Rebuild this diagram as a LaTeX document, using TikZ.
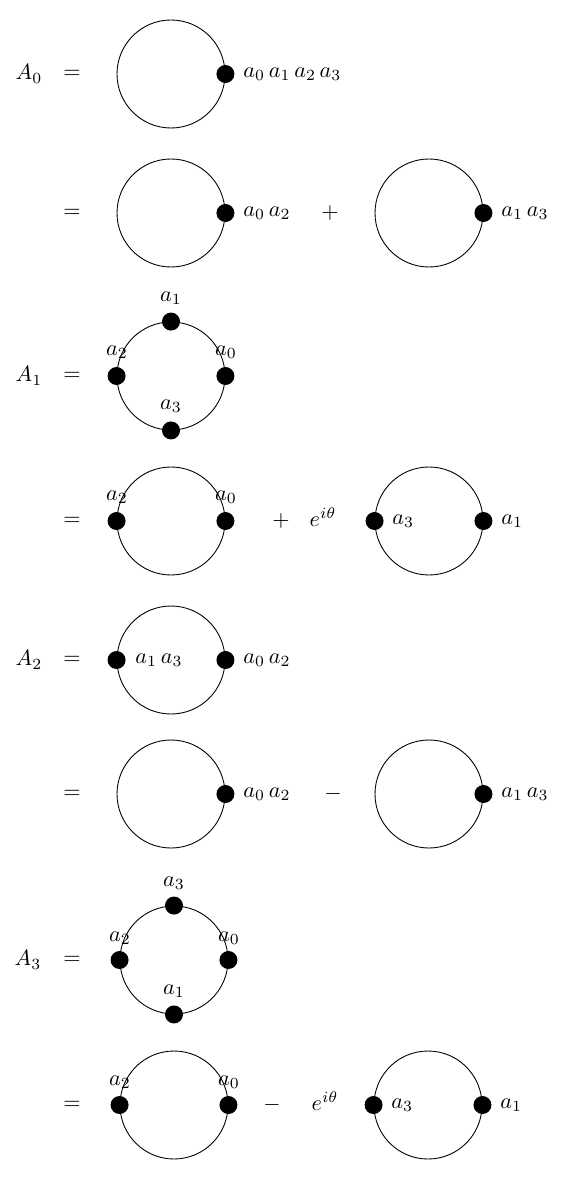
\documentclass[tikz,border=0pt]{standalone}
\begin{document}
\begin{tikzpicture}[x=0.45pt,y=-0.45pt,
  loop/.style={draw,circle,line width=0.4pt,minimum size=48.6pt,inner sep=0pt},
  blob/.style={fill,circle,minimum size=8.1pt,inner sep=0pt},
  lab/.style={inner sep=0pt},
  rlab/.style={inner sep=0pt,anchor=west}]
\useasboundingbox (0,0) rectangle (561,1187);
% Row 1
\node[lab] (A0) at (29,74) {$A_0$};
\node[lab] (eq1) at (72,74) {$=$};
\node[loop] (c1) at (171,74) {};
\node[blob] (d1) at (c1.east) {};
\node[rlab] (l1) at (243,74) {$a_0\,a_1\,a_2\,a_3$};
% Row 2
\node[lab] (eq2) at (72,213) {$=$};
\node[loop] (c2) at (171,213) {};
\node[blob] (d2) at (c2.east) {};
\node[rlab] (l2) at (243,213) {$a_0\,a_2$};
\node[lab] (p2) at (330,213) {$+$};
\node[loop] (c2b) at (429,213) {};
\node[blob] (d2b) at (c2b.east) {};
\node[rlab] (l2b) at (501,213) {$a_1\,a_3$};
% Row 3
\node[lab] (A1) at (29,376) {$A_1$};
\node[lab] (eq3) at (72,376) {$=$};
\node[loop] (c3) at (171,376) {};
\node[blob] (d3n) at (c3.north) {};
\node[blob] (d3w) at (c3.west) {};
\node[blob] (d3e) at (c3.east) {};
\node[blob] (d3s) at (c3.south) {};
\node[lab] (l3n) at (171,298) {$a_1$};
\node[lab] (l3w) at (117,352) {$a_2$};
\node[lab] (l3e) at (226,352) {$a_0$};
\node[lab] (l3s) at (171,406) {$a_3$};
% Row 4
\node[lab] (eq4) at (72,521) {$=$};
\node[loop] (c4) at (171,521) {};
\node[blob] (d4w) at (c4.west) {};
\node[blob] (d4e) at (c4.east) {};
\node[lab] (l4w) at (117,497) {$a_2$};
\node[lab] (l4e) at (226,497) {$a_0$};
\node[lab] (p4) at (281,521) {$+$};
\node[lab] (e4) at (323,517) {$e^{i\theta}$};
\node[loop] (c4b) at (429,521) {};
\node[blob] (d4bw) at (c4b.west) {};
\node[blob] (d4be) at (c4b.east) {};
\node[rlab] (l4bw) at (392,521) {$a_3$};
\node[rlab] (l4be) at (501,521) {$a_1$};
% Row 5
\node[lab] (A2) at (29,660) {$A_2$};
\node[lab] (eq5) at (72,660) {$=$};
\node[loop] (c5) at (171,660) {};
\node[blob] (d5w) at (c5.west) {};
\node[blob] (d5e) at (c5.east) {};
\node[rlab] (l5w) at (135,660) {$a_1\,a_3$};
\node[rlab] (l5e) at (243,660) {$a_0\,a_2$};
% Row 6
\node[lab] (eq6) at (72,794) {$=$};
\node[loop] (c6) at (171,794) {};
\node[blob] (d6) at (c6.east) {};
\node[rlab] (l6) at (243,794) {$a_0\,a_2$};
\node[lab] (m6) at (333,794) {$-$};
\node[loop] (c6b) at (429,794) {};
\node[blob] (d6b) at (c6b.east) {};
\node[rlab] (l6b) at (501,794) {$a_1\,a_3$};
% Row 7
\node[lab] (A3) at (28,960) {$A_3$};
\node[lab] (eq7) at (72,960) {$=$};
\node[loop] (c7) at (174,960) {};
\node[blob] (d7n) at (c7.north) {};
\node[blob] (d7w) at (c7.west) {};
\node[blob] (d7e) at (c7.east) {};
\node[blob] (d7s) at (c7.south) {};
\node[lab] (l7n) at (174,883) {$a_3$};
\node[lab] (l7w) at (120,938) {$a_2$};
\node[lab] (l7e) at (229,938) {$a_0$};
\node[lab] (l7s) at (174,991) {$a_1$};
% Row 8
\node[lab] (eq8) at (72,1105) {$=$};
\node[loop] (c8) at (174,1105) {};
\node[blob] (d8w) at (c8.west) {};
\node[blob] (d8e) at (c8.east) {};
\node[lab] (l8w) at (120,1082) {$a_2$};
\node[lab] (l8e) at (229,1082) {$a_0$};
\node[lab] (m8) at (272,1105) {$-$};
\node[lab] (e8) at (325,1101) {$e^{i\theta}$};
\node[loop] (c8b) at (428,1105) {};
\node[blob] (d8bw) at (c8b.west) {};
\node[blob] (d8be) at (c8b.east) {};
\node[rlab] (l8bw) at (391,1105) {$a_3$};
\node[rlab] (l8be) at (500,1105) {$a_1$};
\end{tikzpicture}
\end{document}
